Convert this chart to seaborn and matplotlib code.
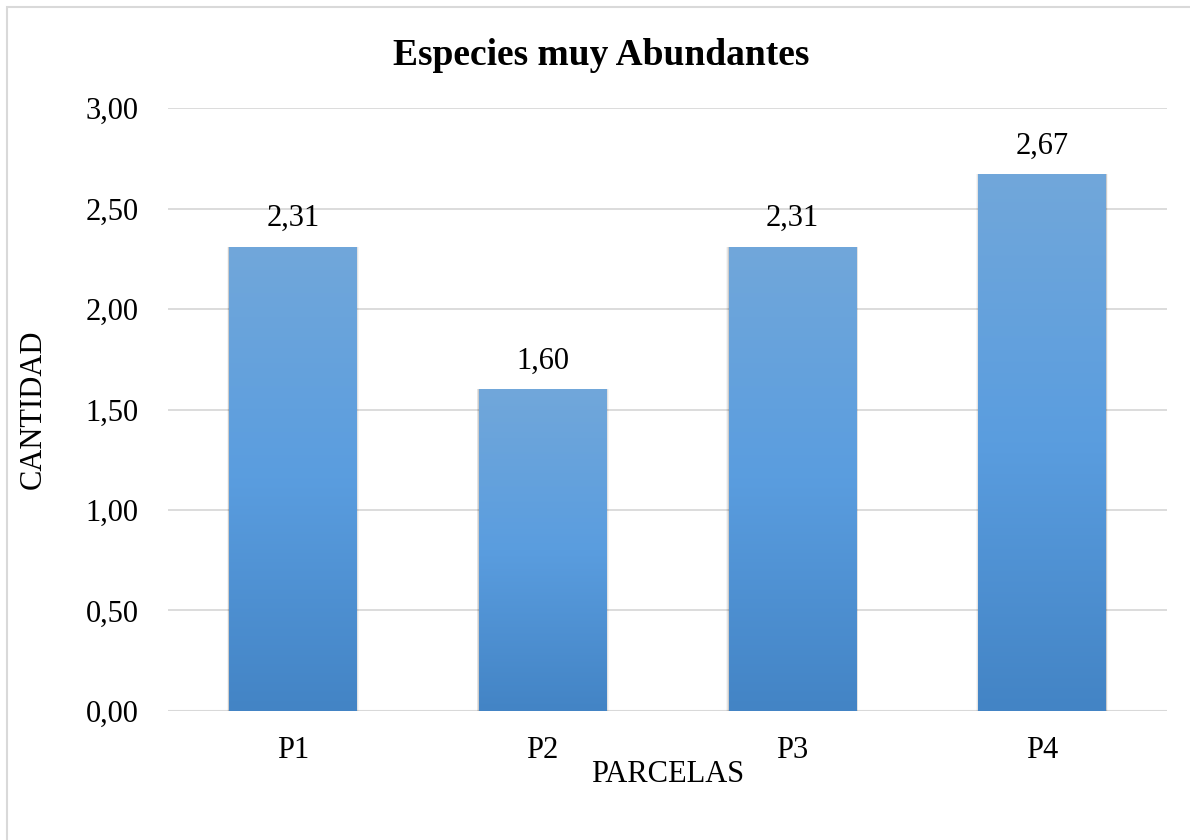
import numpy as np
import pandas as pd
import matplotlib
matplotlib.use("Agg")
import matplotlib.pyplot as plt
import seaborn as sns
from matplotlib.colors import LinearSegmentedColormap
from matplotlib.patches import Rectangle

categories = ["P1", "P2", "P3", "P4"]
values = [2.31, 1.60, 2.31, 2.67]
yticks = [0.0, 0.5, 1.0, 1.5, 2.0, 2.5, 3.0]
title = "Especies muy Abundantes"
xlabel = "PARCELAS"
ylabel = "CANTIDAD"

df = pd.DataFrame({"parcela": categories, "cantidad": values})

sns.set_theme(style="white")
plt.rcParams["font.family"] = ["Liberation Serif", "DejaVu Serif"]
plt.rcParams["text.color"] = "black"
plt.rcParams["axes.labelcolor"] = "black"
plt.rcParams["xtick.color"] = "black"
plt.rcParams["ytick.color"] = "black"

FS = 22

fig = plt.figure(figsize=(11.9, 8.4), dpi=100)
ax = fig.add_axes([0.1412, 0.1536, 0.8395, 0.7178])

sns.barplot(data=df, x="parcela", y="cantidad", ax=ax, color="#5b9bd5",
            width=0.51, saturation=1, zorder=3)

ax.set_ylim(0, 3.0)
ax.set_xlim(-0.5, len(categories) - 0.5)
ax.set_yticks(yticks)
ax.set_yticklabels([f"{t:.2f}".replace(".", ",") for t in yticks], fontsize=FS)
ax.tick_params(axis="x", labelsize=FS, length=0, pad=18)
ax.tick_params(axis="y", length=0, pad=21)
ax.grid(axis="y", color="#d9d9d9", linewidth=1.3, zorder=0)
for s in ax.spines.values():
    s.set_visible(False)
ax.axhline(0, color="#d9d9d9", linewidth=1.5, zorder=1)

ax.set_xlabel(xlabel, fontsize=FS)
ax.set_ylabel(ylabel, fontsize=FS)
ax.xaxis.set_label_coords(0.5, -0.082)
ax.yaxis.set_label_coords(-0.12, 0.5)

cmap = LinearSegmentedColormap.from_list("g", ["#4384c5", "#5a9ddf", "#71a7da"])
grad = np.linspace(0, 1, 256).reshape(-1, 1)
for p, v in zip(ax.patches, values):
    x0, w, h = p.get_x(), p.get_width(), p.get_height()
    # soft shadow
    for i, a in enumerate([0.10, 0.07, 0.04]):
        off = 0.006 * (i + 1)
        sh = Rectangle((x0 - off * 0.5, -0.012 * (i + 1)), w + off, h + 0.012 * (i + 1),
                       facecolor="black", alpha=a, edgecolor="none", zorder=2)
        ax.add_patch(sh)
    p.set_edgecolor("none")
    im = ax.imshow(grad, extent=[x0, x0 + w, 0, h], origin="lower", cmap=cmap,
                   aspect="auto", zorder=4)
    im.set_clip_path(p)
    ax.annotate(f"{v:.2f}".replace(".", ","), (x0 + w / 2, h), xytext=(0, 10),
                textcoords="offset points", ha="center", va="bottom",
                fontsize=FS, zorder=5)
ax.set_xlim(-0.5, len(categories) - 0.5)
ax.set_ylim(0, 3.0)

fig.text(0.505, 0.934, title, ha="center", va="center", fontsize=27, fontweight="bold")
fig.patches.append(Rectangle((0.006, -0.1), 1.2, 1.0917, transform=fig.transFigure,
                             fill=False, edgecolor="#d9d9d9", linewidth=1.5))

fig.savefig("out.png", dpi=100, facecolor="white")
